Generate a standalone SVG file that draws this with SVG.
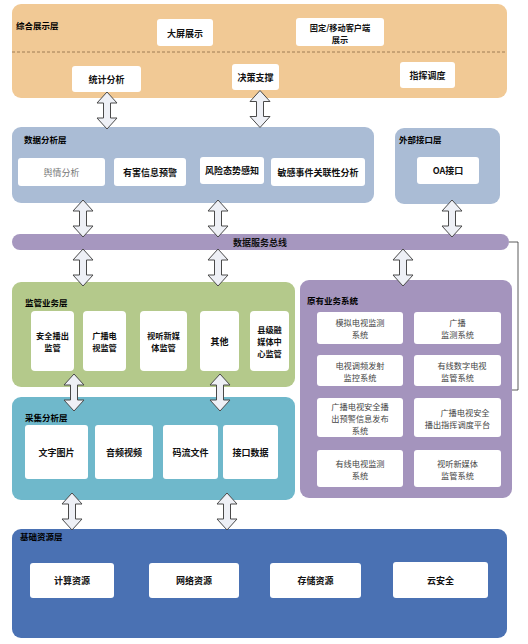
<svg xmlns="http://www.w3.org/2000/svg" xmlns:xlink="http://www.w3.org/1999/xlink" width="528" height="644" viewBox="0 0 528 644">
<style>
text{font-family:"Noto Sans CJK SC","Noto Sans",sans-serif;dominant-baseline:central;}
.lbl{font-size:8.5px;font-weight:700;fill:#000;}
.b{font-size:9px;font-weight:700;fill:#111;text-anchor:middle;}
.m{font-size:8.2px;font-weight:700;fill:#111;text-anchor:middle;}
.n{font-size:8.2px;font-weight:400;fill:#444;text-anchor:middle;}
.box{fill:#fff;}
.arr{fill:#eef0f6;stroke:#4a4a4a;stroke-width:1;stroke-linejoin:miter;}
</style>
<defs>
<path id="dar" class="arr" d="M0,0 L10,11 L3.5,11 L3.5,26 L10,26 L0,37 L-10,26 L-3.5,26 L-3.5,11 L-10,11 Z"/>
</defs>
<rect width="528" height="644" fill="#fff"/>

<g id="layer-display">
<rect x="12" y="4" width="495" height="94" rx="9" fill="#f1c995"/>
<line x1="12" y1="52" x2="507" y2="52" stroke="#8a6a45" stroke-width="0.8" stroke-dasharray="3,2"/>
<text class="lbl" x="16" y="25">综合展示层</text>
<g id="n-dapin"><rect class="box" x="157" y="19" width="56" height="27" rx="3"/><text class="b" x="185" y="33">大屏展示</text></g>
<g id="n-kehuduan"><rect class="box" x="296" y="18" width="88" height="28" rx="3"/><text class="m" x="340" y="26.5">固定/移动客户端</text><text class="m" x="340" y="38.5">展示</text></g>
<g id="n-tongji"><rect class="box" x="72" y="66" width="69" height="26" rx="3"/><text class="b" x="106.5" y="79">统计分析</text></g>
<g id="n-juece"><rect class="box" x="232" y="64" width="47" height="26" rx="3"/><text class="b" x="255.5" y="77">决策支撑</text></g>
<g id="n-zhihui"><rect class="box" x="400" y="62" width="55" height="26" rx="3"/><text class="b" x="427.5" y="75">指挥调度</text></g>
</g>

<g id="layer-analysis">
<rect x="12" y="127" width="362" height="76" rx="9" fill="#aabcd5"/>
<text class="lbl" x="24" y="139">数据分析层</text>
<g id="n-yuqing"><rect class="box" x="18" y="158" width="87" height="28" rx="3"/><text class="n" x="61.5" y="172" style="fill:#777;font-size:9px">舆情分析</text></g>
<g id="n-youhai"><rect class="box" x="114" y="158" width="72" height="28" rx="3"/><text class="b" x="150" y="172">有害信息预警</text></g>
<g id="n-fengxian"><rect class="box" x="200" y="157" width="64" height="27" rx="3"/><text class="b" x="232" y="170">风险态势感知</text></g>
<g id="n-mingan"><rect class="box" x="271" y="158" width="94" height="28" rx="3"/><text class="b" x="318" y="172">敏感事件关联性分析</text></g>
</g>

<g id="layer-external">
<rect x="395" y="128" width="105" height="76" rx="9" fill="#aabcd5"/>
<text class="lbl" x="399" y="139">外部接口层</text>
<g id="n-oa"><rect class="box" x="417" y="157" width="62" height="27" rx="3"/><text class="b" x="448" y="170">OA接口</text></g>
</g>

<g id="bus">
<rect x="12" y="234" width="497" height="16" rx="8" fill="#a697bf"/>
<text class="b" x="260" y="242">数据服务总线</text>
</g>

<g id="layer-supervision">
<rect x="12" y="282" width="283" height="105" rx="9" fill="#b4c98b"/>
<text class="lbl" x="25" y="302">监管业务层</text>
<g id="n-anquan"><rect class="box" x="31" y="311" width="43" height="60" rx="4"/><text class="m" x="52.5" y="335">安全播出</text><text class="m" x="52.5" y="347">监管</text></g>
<g id="n-guangbo"><rect class="box" x="83" y="311" width="43" height="60" rx="4"/><text class="m" x="104.5" y="335">广播电</text><text class="m" x="104.5" y="347">视监管</text></g>
<g id="n-shiting"><rect class="box" x="140" y="311" width="47" height="60" rx="4"/><text class="m" x="163.5" y="335">视听新媒</text><text class="m" x="163.5" y="347">体监管</text></g>
<g id="n-qita"><rect class="box" x="200" y="311" width="39" height="60" rx="4"/><text class="b" x="219.5" y="341">其他</text></g>
<g id="n-xianji"><rect class="box" x="250" y="311" width="39" height="60" rx="4"/><text class="m" x="269.5" y="329">县级融</text><text class="m" x="269.5" y="341">媒体中</text><text class="m" x="269.5" y="353">心监管</text></g>
</g>

<g id="layer-collect">
<rect x="12" y="397" width="283" height="103" rx="9" fill="#6fb8cb"/>
<text class="lbl" x="25" y="417">采集分析层</text>
<g id="n-wenzi"><rect class="box" x="25" y="425" width="63" height="54" rx="3"/><text class="b" x="56.5" y="452">文字图片</text></g>
<g id="n-yinpin"><rect class="box" x="95" y="425" width="58" height="54" rx="3"/><text class="b" x="124" y="452">音频视频</text></g>
<g id="n-maliu"><rect class="box" x="163" y="425" width="55" height="54" rx="3"/><text class="b" x="190.5" y="452">码流文件</text></g>
<g id="n-jiekou"><rect class="box" x="223" y="425" width="55" height="54" rx="3"/><text class="b" x="250.5" y="452">接口数据</text></g>
</g>

<g id="layer-legacy">
<rect x="300" y="280" width="212" height="218" rx="9" fill="#a494bd"/>
<text class="lbl" x="307" y="300">原有业务系统</text>
<g id="n-moni"><rect class="box" x="317" y="312" width="86" height="32" rx="3"/><text class="n" x="360" y="322">模拟电视监测</text><text class="n" x="360" y="334">系统</text></g>
<g id="n-gbjc"><rect class="box" x="414" y="312" width="87" height="32" rx="3"/><text class="n" x="457.5" y="322">广播</text><text class="n" x="457.5" y="334">监测系统</text></g>
<g id="n-tiaopin"><rect class="box" x="317" y="355" width="86" height="31" rx="3"/><text class="n" x="360" y="364.5">电视调频发射</text><text class="n" x="360" y="376.5">监控系统</text></g>
<g id="n-youxianshuzi"><rect class="box" x="414" y="355" width="87" height="31" rx="3"/><text class="n" x="462" y="364.5">有线数字电视</text><text class="n" x="457.5" y="376.5">监管系统</text></g>
<g id="n-yujing"><rect class="box" x="317" y="398" width="86" height="39" rx="3"/><text class="n" x="360" y="405.5">广播电视安全播</text><text class="n" x="360" y="417.5">出预警信息发布</text><text class="n" x="360" y="429.5">系统</text></g>
<g id="n-zhihuipt"><rect class="box" x="414" y="398" width="87" height="39" rx="3"/><text class="n" x="465" y="411.5">广播电视安全</text><text class="n" x="457.5" y="423.5">播出指挥调度平台</text></g>
<g id="n-youxian"><rect class="box" x="317" y="450" width="86" height="37" rx="3"/><text class="n" x="360" y="462.5">有线电视监测</text><text class="n" x="360" y="474.5">系统</text></g>
<g id="n-xinmeiti"><rect class="box" x="414" y="450" width="87" height="37" rx="3"/><text class="n" x="457.5" y="462.5">视听新媒体</text><text class="n" x="457.5" y="474.5">监管系统</text></g>
</g>

<g id="layer-base">
<rect x="12" y="529" width="495" height="109" rx="9" fill="#4a71b3"/>
<text class="lbl" x="20" y="536">基础资源层</text>
<g id="n-jisuan"><rect class="box" x="30" y="563" width="84" height="35" rx="3"/><text class="b" x="72" y="580.5">计算资源</text></g>
<g id="n-wangluo"><rect class="box" x="149" y="563" width="90" height="35" rx="3"/><text class="b" x="194" y="580.5">网络资源</text></g>
<g id="n-cunchu"><rect class="box" x="270" y="563" width="91" height="35" rx="3"/><text class="b" x="315.5" y="580.5">存储资源</text></g>
<g id="n-yun"><rect class="box" x="393" y="562" width="95" height="36" rx="3"/><text class="b" x="440.5" y="580">云安全</text></g>
</g>

<g id="connectors">
<use href="#dar" x="107" y="92"/>
<use href="#dar" x="260" y="90.5"/>
<use href="#dar" x="83" y="200"/>
<use href="#dar" x="218" y="200"/>
<use href="#dar" x="452" y="200"/>
<use href="#dar" x="83" y="249"/>
<use href="#dar" x="218" y="249"/>
<use href="#dar" x="403" y="249"/>
<use href="#dar" x="74" y="374"/>
<use href="#dar" x="220" y="374"/>
<use href="#dar" x="72" y="493"/>
<use href="#dar" x="227" y="493"/>
<polyline points="509,242 518,242 518,390 512,390" fill="none" stroke="#333" stroke-width="0.8"/>
</g>
</svg>
